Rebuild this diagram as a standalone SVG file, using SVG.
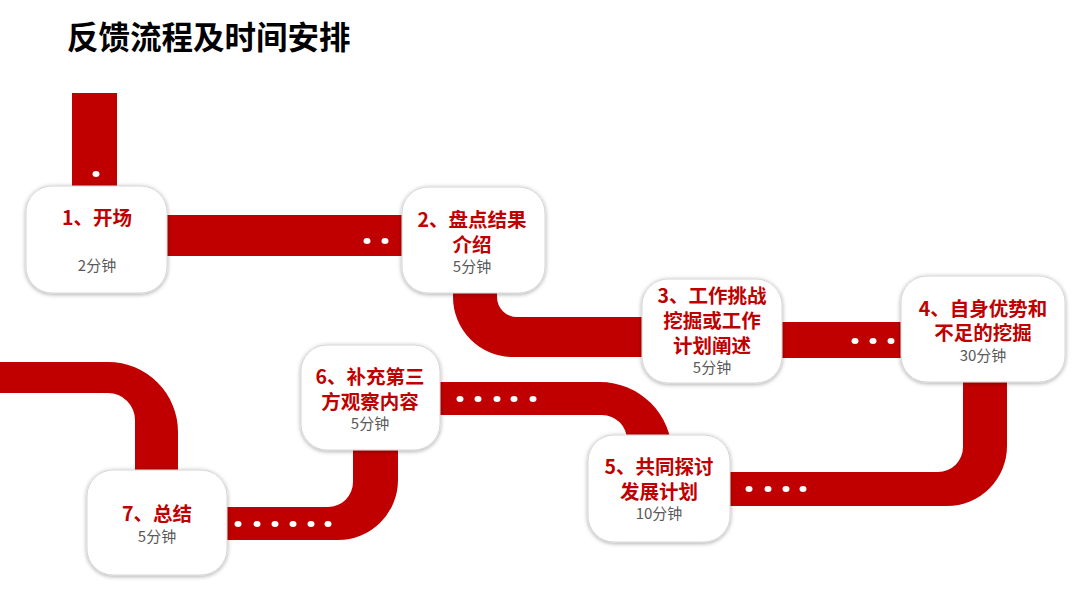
<svg xmlns="http://www.w3.org/2000/svg" width="1080" height="608" viewBox="0 0 1080 608">
<defs>
<filter id="sh" x="-20%" y="-20%" width="140%" height="140%">
<feDropShadow dx="0" dy="1" stdDeviation="2" flood-color="#000" flood-opacity="0.35"/>
</filter>
<style>
.road{fill:#C00000}
.dot{fill:#fff}
.box{fill:#fff;stroke:#d6d6d6;stroke-width:1;filter:url(#sh)}
.t{font-family:"Noto Sans CJK SC","Noto Sans",sans-serif;font-weight:700;font-size:19.5px;fill:#C00000;text-anchor:middle}
.m{font-family:"Noto Sans CJK SC","Noto Sans",sans-serif;font-size:15px;fill:#595959;text-anchor:middle}
.title{font-family:"Noto Sans CJK SC","Noto Sans",sans-serif;font-weight:700;font-size:31.5px;fill:#000}
</style>
</defs>
<rect width="1080" height="608" fill="#fff"/>
<text class="title" x="67" y="49">反馈流程及时间安排</text>
<g id="connectors">
<rect class="road" x="72" y="93" width="45" height="100"/>
<rect class="road" x="160" y="215" width="250" height="41"/>
<path class="road" d="M453,285 H497 V297 A20,20 0 0 0 517,317 H650 V357 H513 A60,60 0 0 1 453,297 Z"/>
<rect class="road" x="775" y="322" width="132" height="36"/>
<path class="road" d="M963,375 H1007 V446 A60,60 0 0 1 947,506 H720 V472 H938 A25,25 0 0 0 963,447 Z"/>
<path class="road" d="M430,382 H600 A72,72 0 0 1 672,454 H627 V440 A25,25 0 0 0 602,415 H430 Z"/>
<path class="road" d="M220,507 H328 A25,25 0 0 0 353,482 V440 H398 V480 A60,60 0 0 1 338,540 H220 Z"/>
<path class="road" d="M0,362 H108 A70,70 0 0 1 178,432 V480 H135 V420 A27,27 0 0 0 108,393 H0 Z"/>
<g class="dot">
<ellipse cx="96" cy="174" rx="3.5" ry="3"/>
<ellipse cx="367" cy="241" rx="3.5" ry="3"/><ellipse cx="385" cy="241" rx="3.5" ry="3"/>
<ellipse cx="855" cy="341" rx="3.5" ry="3"/><ellipse cx="873" cy="341" rx="3.5" ry="3"/><ellipse cx="891" cy="341" rx="3.5" ry="3"/>
<ellipse cx="749" cy="489" rx="3.5" ry="3"/><ellipse cx="768" cy="489" rx="3.5" ry="3"/><ellipse cx="786" cy="489" rx="3.5" ry="3"/><ellipse cx="803" cy="489" rx="3.5" ry="3"/>
<ellipse cx="460" cy="399" rx="3.5" ry="3"/><ellipse cx="478" cy="399" rx="3.5" ry="3"/><ellipse cx="497" cy="399" rx="3.5" ry="3"/><ellipse cx="514" cy="399" rx="3.5" ry="3"/><ellipse cx="533" cy="399" rx="3.5" ry="3"/>
<ellipse cx="238" cy="524" rx="3.5" ry="3"/><ellipse cx="257" cy="524" rx="3.5" ry="3"/><ellipse cx="275" cy="524" rx="3.5" ry="3"/><ellipse cx="293" cy="524" rx="3.5" ry="3"/><ellipse cx="311" cy="524" rx="3.5" ry="3"/><ellipse cx="328" cy="524" rx="3.5" ry="3"/>
</g>
</g>
<g id="node1">
<rect class="box" x="26" y="186" width="141" height="107" rx="26"/>
<text class="t" x="97" y="225">1、开场</text>
<text class="m" x="97" y="271">2分钟</text>
</g>
<g id="node2">
<rect class="box" x="402" y="187" width="143" height="106" rx="26"/>
<text class="t" x="472" y="227">2、盘点结果</text>
<text class="t" x="472" y="252">介绍</text>
<text class="m" x="472" y="272">5分钟</text>
</g>
<g id="node3">
<rect class="box" x="642" y="279" width="140" height="104" rx="26"/>
<text class="t" x="712" y="303">3、工作挑战</text>
<text class="t" x="712" y="328">挖掘或工作</text>
<text class="t" x="712" y="353">计划阐述</text>
<text class="m" x="712" y="373">5分钟</text>
</g>
<g id="node4">
<rect class="box" x="901" y="276" width="164" height="106" rx="26"/>
<text class="t" x="983" y="316">4、自身优势和</text>
<text class="t" x="983" y="340">不足的挖掘</text>
<text class="m" x="983" y="361">30分钟</text>
</g>
<g id="node5">
<rect class="box" x="588" y="435" width="142" height="107" rx="26"/>
<text class="t" x="659" y="474">5、共同探讨</text>
<text class="t" x="659" y="499">发展计划</text>
<text class="m" x="659" y="519">10分钟</text>
</g>
<g id="node6">
<rect class="box" x="301" y="345" width="139" height="105" rx="26"/>
<text class="t" x="370" y="384">6、补充第三</text>
<text class="t" x="370" y="409">方观察内容</text>
<text class="m" x="370" y="429">5分钟</text>
</g>
<g id="node7">
<rect class="box" x="87" y="470" width="140" height="105" rx="26"/>
<text class="t" x="157" y="521">7、总结</text>
<text class="m" x="157" y="542">5分钟</text>
</g>
</svg>
